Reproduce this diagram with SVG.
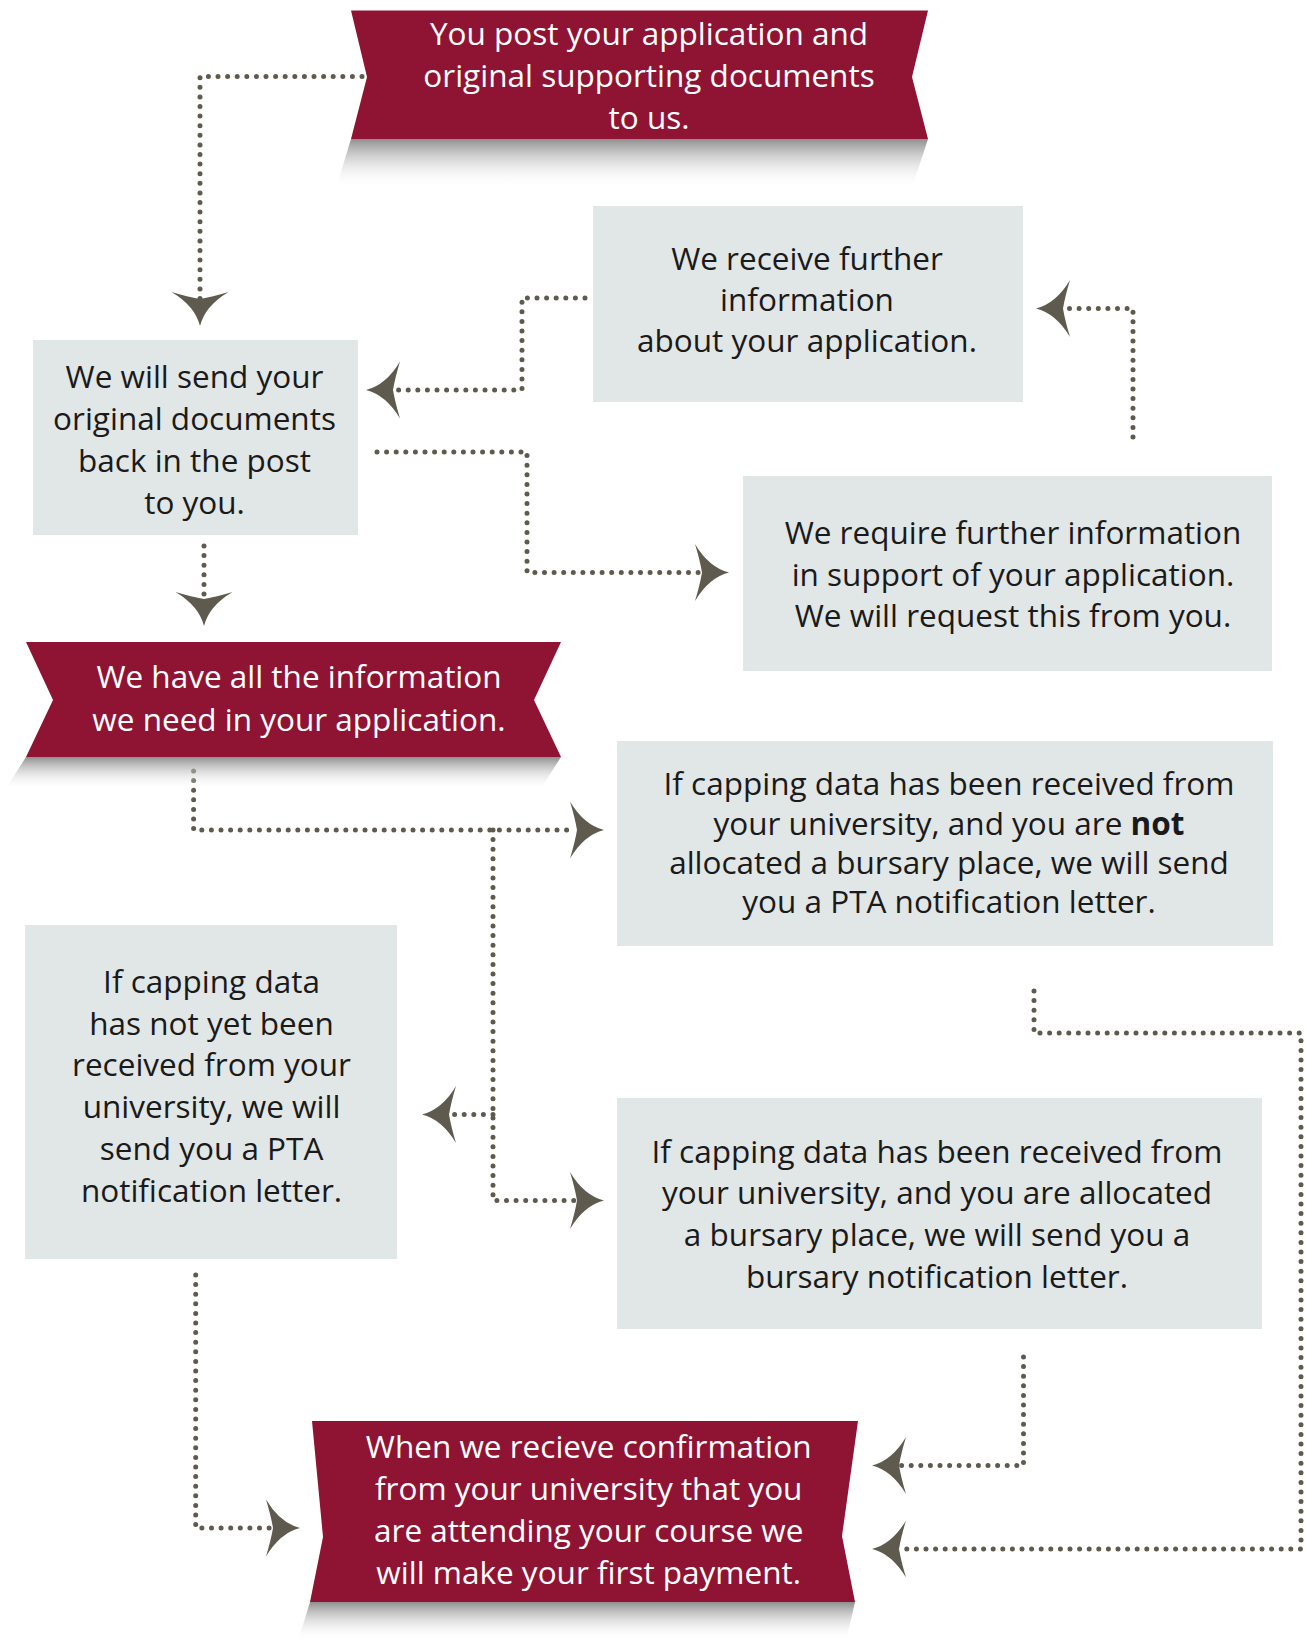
<svg xmlns="http://www.w3.org/2000/svg" width="1306" height="1641" viewBox="0 0 1306 1641">
<defs>
<linearGradient id="shadow" x1="0" y1="0" x2="0" y2="1">
<stop offset="0" stop-color="#8a8a8a" stop-opacity="0.95"/>
<stop offset="1" stop-color="#ffffff" stop-opacity="0"/>
</linearGradient>
<path id="ah" d="M0,0 Q-20,-5 -34,-28.5 Q-29,-12 -27,0 Q-29,12 -34,28.5 Q-20,5 0,0 Z"/>
</defs>
<style>
.box{fill:#e1e6e6}
.ban{fill:#8f1433}
.sh{fill:url(#shadow)}
.t{font-family:"Open Sans","Liberation Sans",sans-serif;font-size:31.5px;text-anchor:middle;fill:#1a1a1a}
.w{fill:#ffffff}
.c{fill:none;stroke:#5e5a4e;stroke-width:5;stroke-linecap:round;stroke-linejoin:round;stroke-dasharray:0 9.6}
.a{fill:#5e5a4e}
</style>
<rect width="1306" height="1641" fill="#ffffff"/>

<g id="connectors">
<path class="c" d="M362,76.5 H200 V300"/>
<use href="#ah" class="a" transform="translate(200,326) rotate(90)"/>
<path class="c" d="M585,298 H522 V390 H393"/>
<use href="#ah" class="a" transform="translate(366,390) rotate(180)"/>
<path class="c" d="M377,452 H527 V572.5 H700"/>
<use href="#ah" class="a" transform="translate(729,572.5)"/>
<path class="c" d="M1133,437 V308.5 H1066"/>
<use href="#ah" class="a" transform="translate(1036,308.5) rotate(180)"/>
<path class="c" d="M204,546 V600"/>
<use href="#ah" class="a" transform="translate(204,626) rotate(90)"/>
<path class="c" d="M193.6,771 V830 H575"/>
<use href="#ah" class="a" transform="translate(604,830)"/>
<path class="c" d="M493,830 V1200.5 H575"/>
<use href="#ah" class="a" transform="translate(604,1200.5)"/>
<path class="c" d="M493,1114.5 H452"/>
<use href="#ah" class="a" transform="translate(422,1114.5) rotate(180)"/>
<path class="c" d="M1034,991 V1033 H1301 V1549 H900"/>
<use href="#ah" class="a" transform="translate(872,1549) rotate(180)"/>
<path class="c" d="M1023.5,1357 V1465.5 H900"/>
<use href="#ah" class="a" transform="translate(872,1465.5) rotate(180)"/>
<path class="c" d="M195.7,1275 V1528 H270"/>
<use href="#ah" class="a" transform="translate(300,1528)"/>
</g>

<g id="node-post">
<polygon class="sh" points="351,139 928,139 912,188 336,188"/>
<polygon class="ban" points="351,10.5 928,10.5 912,77 928,139 351,139 367,77"/>
<text class="t w" x="649" y="45">You post your application and</text>
<text class="t w" x="649" y="87">original supporting documents</text>
<text class="t w" x="649" y="129">to us.</text>
</g>

<g id="node-send-back">
<rect class="box" x="33" y="340" width="325" height="195"/>
<text class="t" x="194.5" y="388">We will send your</text>
<text class="t" x="194.5" y="430">original documents</text>
<text class="t" x="194.5" y="472">back in the post</text>
<text class="t" x="194.5" y="514">to you.</text>
</g>

<g id="node-receive">
<rect class="box" x="593" y="206" width="430" height="196"/>
<text class="t" x="807" y="269.5">We receive further</text>
<text class="t" x="807" y="311">information</text>
<text class="t" x="807" y="352">about your application.</text>
</g>

<g id="node-require">
<rect class="box" x="743" y="476" width="529" height="195"/>
<text class="t" x="1013" y="544">We require further information</text>
<text class="t" x="1013" y="586">in support of your application.</text>
<text class="t" x="1013" y="627">We will request this from you.</text>
</g>

<g id="node-all-info">
<polygon class="sh" points="26,757 561,757 540,790 5,790"/>
<polygon class="ban" points="26,642 561,642 534,700 561,757 26,757 53,700"/>
<text class="t w" x="299" y="688">We have all the information</text>
<text class="t w" x="299" y="731">we need in your application.</text>
</g>

<g id="node-not-allocated">
<rect class="box" x="617" y="741" width="656" height="205"/>
<text class="t" x="949" y="795">If capping data has been received from</text>
<text class="t" x="949" y="835">your university, and you are <tspan font-weight="bold">not</tspan></text>
<text class="t" x="949" y="874">allocated a bursary place, we will send</text>
<text class="t" x="949" y="913">you a PTA notification letter.</text>
</g>

<g id="node-not-received">
<rect class="box" x="25" y="925" width="372" height="334"/>
<text class="t" x="211.5" y="993">If capping data</text>
<text class="t" x="211.5" y="1035">has not yet been</text>
<text class="t" x="211.5" y="1076">received from your</text>
<text class="t" x="211.5" y="1118">university, we will</text>
<text class="t" x="211.5" y="1160">send you a PTA</text>
<text class="t" x="211.5" y="1202">notification letter.</text>
</g>

<g id="node-allocated">
<rect class="box" x="617" y="1098" width="645" height="231"/>
<text class="t" x="937" y="1163">If capping data has been received from</text>
<text class="t" x="937" y="1204">your university, and you are allocated</text>
<text class="t" x="937" y="1246">a bursary place, we will send you a</text>
<text class="t" x="937" y="1288">bursary notification letter.</text>
</g>

<g id="node-payment">
<polygon class="sh" points="310,1602 855,1602 846,1641 298,1641"/>
<polygon class="ban" points="312,1421 858,1421 842,1536 855,1602 310,1602 323,1537"/>
<text class="t w" x="588.7" y="1458">When we recieve confirmation</text>
<text class="t w" x="588.7" y="1500">from your university that you</text>
<text class="t w" x="588.7" y="1542">are attending your course we</text>
<text class="t w" x="588.7" y="1584">will make your first payment.</text>
</g>
</svg>
